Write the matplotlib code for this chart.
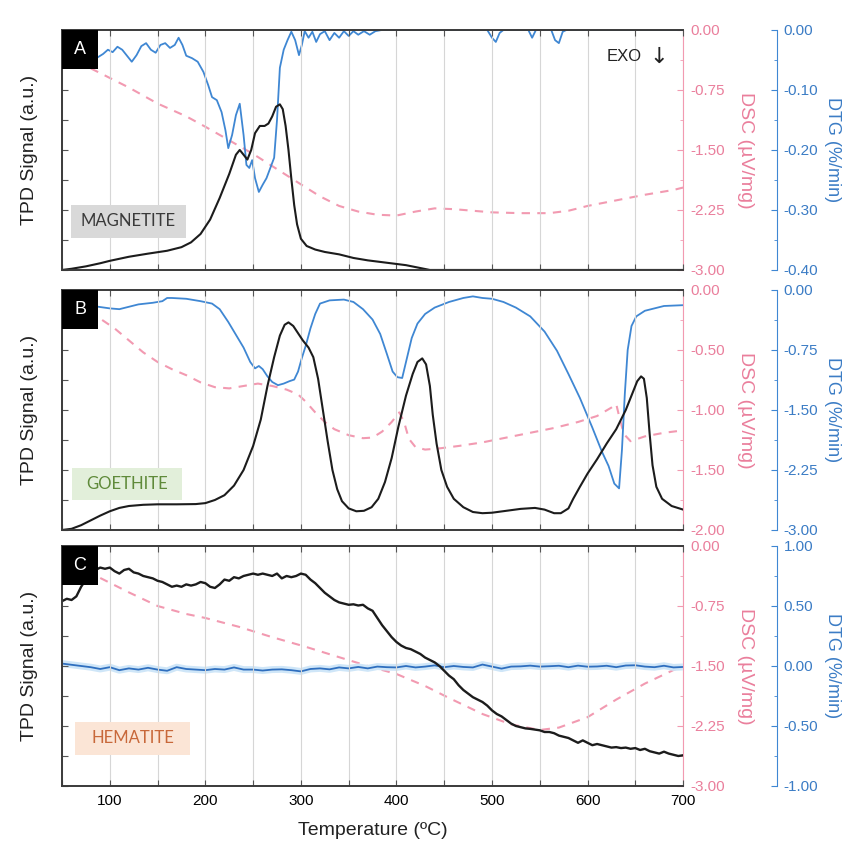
import numpy as np
import matplotlib.pyplot as plt
from matplotlib.patches import Rectangle
from matplotlib.ticker import FixedLocator, MultipleLocator, AutoMinorLocator, FormatStrFormatter

plt.rcParams['font.family'] = ['Liberation Sans', 'DejaVu Sans']
plt.rcParams['axes.unicode_minus'] = False

BLACK = '#1c1c1c'
BLUE = '#3f87d3'
PINK = '#f29ab1'
PINK_TXT = '#ea7f9c'
BLUE_TXT = '#3b7cc5'

# ---- A: magnetite ----
mag_tpd_t = [50, 60, 75, 90, 100, 120, 140, 160, 175, 185, 195, 205, 215, 225, 232, 236, 240,
             244, 248, 252, 257, 262, 266, 270, 274, 278, 281, 284, 287, 290, 293, 296, 300,
             306, 315, 325, 340, 355, 370, 390, 410, 425, 435, 700]
mag_tpd = [0.0, 0.005, 0.015, 0.028, 0.038, 0.055, 0.068, 0.08, 0.095, 0.115, 0.15, 0.21, 0.30,
           0.40, 0.48, 0.50, 0.48, 0.46, 0.50, 0.57, 0.60, 0.60, 0.61, 0.64, 0.68, 0.69, 0.67,
           0.60, 0.50, 0.38, 0.27, 0.19, 0.13, 0.10, 0.085, 0.075, 0.065, 0.05, 0.04, 0.03,
           0.02, 0.008, 0.0, 0.0]
mag_dsc_t = [80, 90, 120, 150, 180, 200, 225, 250, 275, 300, 320, 340, 360, 380, 400, 420, 440,
             460, 480, 500, 530, 560, 580, 600, 630, 660, 690, 700]
mag_dsc = [-0.48, -0.54, -0.72, -0.92, -1.08, -1.21, -1.38, -1.55, -1.74, -1.93, -2.08, -2.20,
           -2.27, -2.31, -2.32, -2.27, -2.23, -2.24, -2.26, -2.28, -2.29, -2.29, -2.26, -2.20,
           -2.13, -2.06, -2.00, -1.97]
mag_dtg_t = [88, 93, 98, 103, 108, 113, 118, 123, 128, 133, 138, 143, 148, 153, 158, 163, 168,
             172, 176, 180, 186, 192, 198, 203, 207, 212, 217, 221, 224, 228, 232, 236, 240, 243,
             246, 249, 252, 256, 260, 264, 268, 272, 275, 278, 282, 286, 290, 294, 298, 301, 304,
             308, 312, 316, 320, 325, 330, 335, 340, 345, 350, 355, 360, 366, 372, 378, 385, 495,
             500, 504, 508, 512, 538, 542, 546, 562, 566, 570, 574, 578, 700]
mag_dtg = [-0.045, -0.040, -0.033, -0.037, -0.028, -0.033, -0.043, -0.053, -0.042, -0.027,
           -0.022, -0.033, -0.038, -0.025, -0.022, -0.030, -0.025, -0.013, -0.025, -0.043,
           -0.047, -0.053, -0.070, -0.092, -0.112, -0.117, -0.137, -0.167, -0.197, -0.175,
           -0.142, -0.123, -0.175, -0.225, -0.230, -0.217, -0.247, -0.270, -0.258, -0.247,
           -0.230, -0.213, -0.150, -0.063, -0.033, -0.017, -0.003, -0.017, -0.042, -0.025,
           -0.002, -0.013, -0.003, -0.020, -0.007, -0.002, -0.017, -0.005, -0.013, -0.002,
           -0.010, -0.002, -0.008, -0.002, -0.008, -0.002, 0.0, 0.0, -0.013, -0.020, -0.005,
           0.0, 0.0, -0.013, 0.0, 0.0, -0.017, -0.022, -0.003, 0.0, 0.0]

# ---- B: goethite ----
goe_tpd_t = [50, 60, 70, 80, 90, 100, 110, 120, 135, 150, 170, 190, 200, 210, 220, 230, 240,
             250, 258, 265, 272, 278, 283, 287, 292, 297, 302, 308, 313, 318, 323, 328, 333,
             338, 343, 350, 358, 366, 374, 381, 388, 395, 402, 410, 417, 422, 427, 431, 435,
             438, 442, 447, 453, 460, 470, 480, 490, 500, 515, 530, 545, 555, 565, 572, 580,
             585, 592, 600, 610, 620, 630, 640, 647, 652, 656, 659, 662, 665, 668, 672, 678,
             688, 700]
goe_tpd = [0.0, 0.005, 0.02, 0.04, 0.06, 0.078, 0.092, 0.10, 0.105, 0.107, 0.107, 0.108, 0.112,
           0.125, 0.145, 0.185, 0.25, 0.35, 0.46, 0.60, 0.72, 0.81, 0.855, 0.865, 0.85, 0.82,
           0.79, 0.76, 0.72, 0.63, 0.50, 0.37, 0.25, 0.17, 0.12, 0.09, 0.078, 0.08, 0.095, 0.13,
           0.20, 0.30, 0.43, 0.56, 0.65, 0.70, 0.715, 0.69, 0.60, 0.48, 0.36, 0.25, 0.18, 0.13,
           0.095, 0.075, 0.07, 0.072, 0.08, 0.088, 0.092, 0.085, 0.07, 0.07, 0.09, 0.13, 0.18,
           0.235, 0.295, 0.36, 0.42, 0.50, 0.57, 0.62, 0.64, 0.63, 0.55, 0.40, 0.27, 0.18, 0.13,
           0.10, 0.085]
goe_dsc_t = [92, 105, 120, 135, 150, 165, 180, 195, 210, 225, 240, 255, 270, 285, 297, 305, 315,
             325, 335, 350, 365, 375, 385, 395, 403, 408, 413, 420, 430, 445, 465, 490, 515, 540,
             565, 590, 610, 625, 630, 633, 638, 645, 660, 680, 700]
goe_dsc = [-0.25, -0.32, -0.42, -0.52, -0.60, -0.66, -0.71, -0.77, -0.81, -0.82, -0.80, -0.78,
           -0.80, -0.83, -0.87, -0.93, -1.02, -1.10, -1.16, -1.21, -1.235, -1.23, -1.18, -1.10,
           -1.02, -1.10, -1.24, -1.31, -1.33, -1.32, -1.30, -1.27, -1.23, -1.19, -1.15, -1.10,
           -1.05, -0.98, -0.95, -1.05, -1.20, -1.26, -1.22, -1.19, -1.17]
goe_dtg_t = [88, 100, 110, 120, 130, 145, 155, 160, 165, 180, 195, 207, 215, 224, 232, 240, 247,
             252, 256, 260, 265, 270, 276, 282, 288, 293, 297, 301, 305, 310, 315, 320, 330, 345,
             355, 365, 375, 383, 390, 396, 401, 406, 411, 416, 422, 430, 440, 455, 470, 480, 490,
             500, 512, 525, 540, 555, 568, 580, 592, 605, 615, 622, 628, 633, 636, 639, 642, 646,
             651, 660, 670, 680, 700]
goe_dtg = [-0.21, -0.23, -0.24, -0.21, -0.18, -0.16, -0.14, -0.10, -0.10, -0.11, -0.14, -0.17,
           -0.24, -0.40, -0.56, -0.72, -0.90, -0.98, -0.95, -0.99, -1.08, -1.15, -1.19, -1.17,
           -1.14, -1.12, -1.02, -0.85, -0.70, -0.48, -0.30, -0.17, -0.13, -0.12, -0.15, -0.24,
           -0.37, -0.55, -0.80, -1.02, -1.09, -1.10, -0.85, -0.60, -0.42, -0.30, -0.22, -0.15,
           -0.10, -0.08, -0.10, -0.11, -0.15, -0.22, -0.33, -0.52, -0.76, -1.05, -1.35, -1.72,
           -2.02, -2.20, -2.42, -2.48, -2.00, -1.30, -0.75, -0.45, -0.33, -0.26, -0.23, -0.20,
           -0.19]

# ---- C: hematite ----
hem_tpd_t = np.arange(50, 701, 5)
hem_tpd = [0.77, 0.78, 0.775, 0.79, 0.83, 0.86, 0.89, 0.90, 0.91, 0.905,
           0.91, 0.895, 0.885, 0.90, 0.905, 0.89, 0.885, 0.875, 0.87, 0.865,
           0.855, 0.85, 0.84, 0.83, 0.835, 0.83, 0.84, 0.835, 0.84, 0.85,
           0.845, 0.83, 0.825, 0.84, 0.86, 0.855, 0.87, 0.865, 0.875, 0.88,
           0.885, 0.88, 0.885, 0.88, 0.875, 0.885, 0.865, 0.875, 0.87, 0.875,
           0.885, 0.88, 0.86, 0.845, 0.825, 0.805, 0.79, 0.775, 0.765, 0.76,
           0.755, 0.757, 0.752, 0.755, 0.74, 0.73, 0.70, 0.67, 0.645, 0.62,
           0.60, 0.585, 0.575, 0.57, 0.56, 0.55, 0.535, 0.525, 0.515, 0.50,
           0.48, 0.46, 0.445, 0.42, 0.40, 0.385, 0.37, 0.36, 0.35, 0.335,
           0.315, 0.30, 0.29, 0.275, 0.26, 0.25, 0.245, 0.24, 0.238, 0.235,
           0.232, 0.225, 0.225, 0.22, 0.21, 0.205, 0.20, 0.19, 0.18, 0.19,
           0.18, 0.17, 0.175, 0.17, 0.165, 0.16, 0.162, 0.158, 0.16, 0.155,
           0.158, 0.15, 0.155, 0.145, 0.14, 0.135, 0.143, 0.135, 0.13, 0.125,
           0.128]
hem_dsc_t = [90, 120, 150, 180, 200, 235, 270, 305, 340, 370, 400, 430, 455, 490, 520, 550, 570,
             600, 630, 660, 690, 700]
hem_dsc = [-0.40, -0.58, -0.75, -0.85, -0.90, -1.01, -1.14, -1.26, -1.39, -1.50, -1.60, -1.75,
           -1.90, -2.10, -2.23, -2.30, -2.27, -2.14, -1.92, -1.72, -1.55, -1.50]
hem_dtg_t = np.arange(50, 701, 10)
hem_dtg = [0.02, 0.01, 0.0, -0.01, -0.025, -0.01, -0.035, -0.02, -0.03, -0.015,
           -0.03, -0.04, -0.01, -0.025, -0.03, -0.035, -0.025, -0.03, -0.012, -0.03,
           -0.03, -0.038, -0.03, -0.028, -0.035, -0.045, -0.025, -0.02, -0.028, -0.012,
           -0.02, -0.008, -0.02, -0.005, -0.01, -0.012, 0.0, -0.012, -0.005, 0.005,
           -0.01, 0.0, -0.008, -0.012, 0.012, -0.005, -0.022, -0.005, -0.003, 0.003,
           -0.005, -0.002, 0.002, -0.01, 0.003, -0.006, -0.004, 0.002, -0.01, 0.004,
           0.006, -0.005, -0.01, 0.002, -0.012, -0.008]

x_major = [100, 200, 300, 400, 500, 600, 700]

fig = plt.figure(figsize=(8.45, 8.41), dpi=100)
fig.patch.set_facecolor('white')


def panel(bottom, tpd_t, tpd, dsc_t, dsc, dtg_t, dtg, dsc_lim, dtg_lim, letter, name,
          name_bg, name_fg, name_box, last=False, halo=False):
    ax = fig.add_axes([0.0734, bottom, 0.735, 0.2854])
    dsc_ax = ax.twinx()
    dtg_ax = ax.twinx()
    ax.set_zorder(3)
    ax.patch.set_visible(False)

    # TPD (left, no values)
    ax.plot(tpd_t, tpd, color=BLACK, lw=1.5 if not halo else 1.7)
    ax.set_xlim(50, 700)
    ax.set_ylim(0, 1)
    ax.xaxis.set_major_locator(FixedLocator(x_major))
    ax.xaxis.set_minor_locator(MultipleLocator(50))
    ax.yaxis.set_major_locator(FixedLocator(np.linspace(0, 1, 9)))
    ax.grid(True, which='both', axis='x', color='#d6d6d6', lw=0.8)
    ax.tick_params(axis='x', which='both', direction='in', top=True, length=4,
                   width=0.8, color='#555555', labelbottom=last, labelsize=11, pad=6)
    ax.tick_params(axis='y', direction='in', length=4, width=0.8, color='#555555',
                   labelleft=False)
    for s in ['top', 'bottom', 'left']:
        ax.spines[s].set_color('#3a3a3a')
        ax.spines[s].set_linewidth(1.4)
    ax.spines['right'].set_visible(False)
    ax.text(-0.052, 0.5, 'TPD Signal (a.u.)', transform=ax.transAxes, rotation=90,
            ha='center', va='center', fontsize=14, color='#222222')

    # DSC (dashed, inner right axis)
    dsc_ax.plot(dsc_t, dsc, color=PINK, lw=1.5, ls=(0, (4, 3.5)))
    dsc_ax.set_ylim(*dsc_lim)
    dsc_ax.yaxis.set_major_locator(FixedLocator(np.linspace(dsc_lim[0], dsc_lim[1], 5)))
    dsc_ax.yaxis.set_minor_locator(AutoMinorLocator(2))
    dsc_ax.yaxis.set_major_formatter(FormatStrFormatter('%.2f'))
    dsc_ax.tick_params(axis='y', which='both', direction='in', color=PINK,
                       labelcolor=PINK_TXT, labelsize=11, pad=5)
    dsc_ax.tick_params(axis='y', which='major', length=4)
    dsc_ax.tick_params(axis='y', which='minor', length=2.5)
    for s in ['top', 'bottom', 'left']:
        dsc_ax.spines[s].set_visible(False)
    dsc_ax.spines['right'].set_color(PINK)
    dsc_ax.text(1.10, 0.5, 'DSC (µV/mg)', transform=dsc_ax.transAxes, rotation=270,
                ha='center', va='center', fontsize=14, color=PINK_TXT)

    # DTG (outer right axis)
    if halo:
        dtg_ax.plot(dtg_t, dtg, color='#cfe6f8', lw=5, solid_capstyle='butt')
    dtg_ax.plot(dtg_t, dtg, color=BLUE if not halo else '#2f6fbf', lw=1.3)
    dtg_ax.set_ylim(*dtg_lim)
    dtg_ax.spines['right'].set_position(('axes', 1.151))
    dtg_ax.yaxis.set_major_locator(FixedLocator(np.linspace(dtg_lim[0], dtg_lim[1], 5)))
    dtg_ax.yaxis.set_minor_locator(AutoMinorLocator(2))
    dtg_ax.yaxis.set_major_formatter(FormatStrFormatter('%.2f'))
    dtg_ax.tick_params(axis='y', which='both', direction='in', color=BLUE,
                       labelcolor=BLUE_TXT, labelsize=11, pad=5)
    dtg_ax.tick_params(axis='y', which='major', length=4)
    dtg_ax.tick_params(axis='y', which='minor', length=2.5)
    for s in ['top', 'bottom', 'left']:
        dtg_ax.spines[s].set_visible(False)
    dtg_ax.spines['right'].set_color(BLUE)
    dtg_ax.text(1.2405, 0.5, 'DTG (%/min)', transform=dtg_ax.transAxes, rotation=270,
                ha='center', va='center', fontsize=13, color=BLUE_TXT)

    # panel letter
    ax.add_patch(Rectangle((0, 1 - 0.1625), 0.058, 0.1625, transform=ax.transAxes,
                           facecolor='black', edgecolor='none', zorder=10, clip_on=False))
    ax.text(0.029, 1 - 0.081, letter, transform=ax.transAxes, color='white', fontsize=13,
            ha='center', va='center', zorder=11)

    # sample name tag
    x0, y0, w, h = name_box
    ax.add_patch(Rectangle((x0, y0), w, h, transform=ax.transAxes, facecolor=name_bg,
                           edgecolor='none', zorder=10))
    ax.text(x0 + w / 2, y0 + h / 2, name, transform=ax.transAxes, color=name_fg,
            family=['Lato', 'DejaVu Sans'], fontsize=12, ha='center', va='center', zorder=11)
    return ax


ax_a = panel(0.679, mag_tpd_t, mag_tpd, mag_dsc_t, mag_dsc, mag_dtg_t, mag_dtg,
             (-3, 0), (-0.4, 0), 'A', 'MAGNETITE', '#d9d9d9', '#3a3a3a',
             (0.0145, 0.133, 0.185, 0.138))
ax_a.text(0.905, 0.8875, 'EXO', transform=ax_a.transAxes, ha='center', va='center',
          fontsize=12, color='#222222')
ax_a.text(0.96, 0.8875, '↓', transform=ax_a.transAxes, ha='center', va='center',
          fontsize=16, color='#222222', family=['DejaVu Sans'])

panel(0.3698, goe_tpd_t, goe_tpd, goe_dsc_t, goe_dsc, goe_dtg_t, goe_dtg,
      (-2, 0), (-3, 0), 'B', 'GOETHITE', '#e2efda', '#5f8a3a',
      (0.016, 0.125, 0.177, 0.133))

ax_c = panel(0.0654, hem_tpd_t, hem_tpd, hem_dsc_t, hem_dsc, hem_dtg_t, hem_dtg,
             (-3, 0), (-1, 1), 'C', 'HEMATITE', '#fbe5d6', '#c8683a',
             (0.021, 0.129, 0.185, 0.138), last=True, halo=True)
ax_c.text(0.5, -0.185, 'Temperature (ºC)', transform=ax_c.transAxes, ha='center',
          va='center', fontsize=14, color='#222222')

fig.savefig('out.png', dpi=100, facecolor='white')
